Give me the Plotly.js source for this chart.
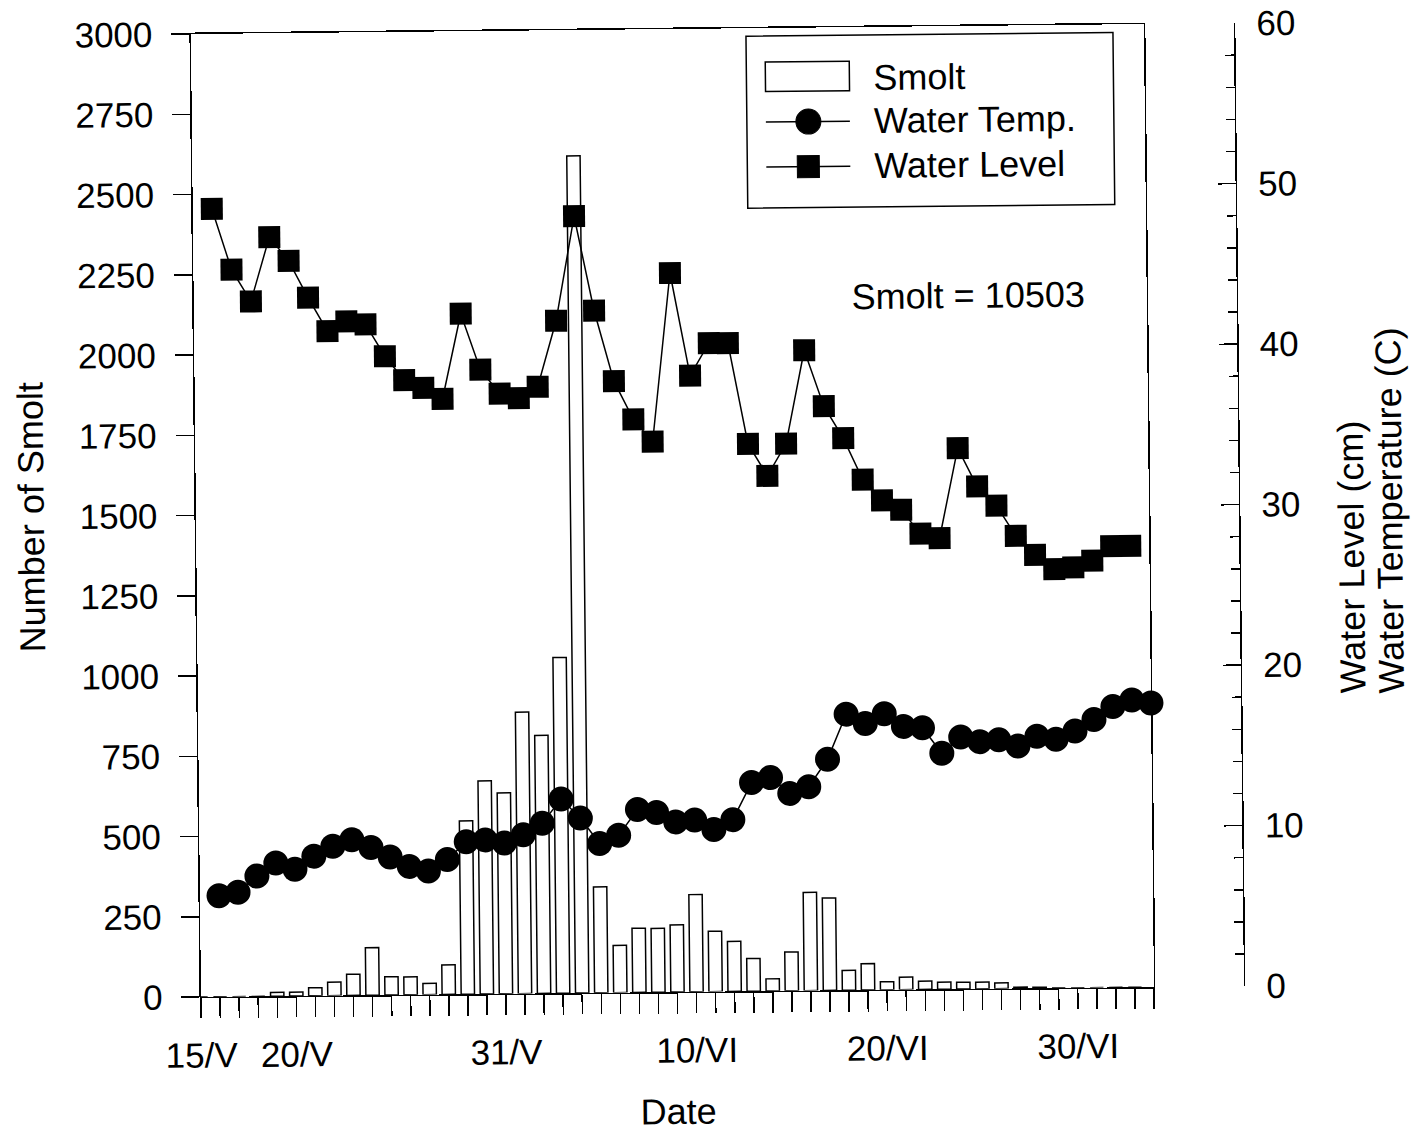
<!DOCTYPE html>
<html>
<head>
<meta charset="utf-8">
<script src="https://cdn.plot.ly/plotly-3.0.1.min.js"></script>
<style>
  html, body { margin: 0; padding: 0; background: #ffffff; overflow: hidden; }
  #chart { width: 1416px; height: 1137px; transform: rotate(-0.6deg); transform-origin: 201px 997px; }
</style>
</head>
<body>
<div id="chart"></div>
<script>
// ---- data ----
// daily smolt counts, starting 15/V
const smoltCounts = [0, 0, 0, 0, 12, 12, 25, 42, 66, 148,
                     57, 56, 35, 92, 540, 664, 626, 877, 804, 1046,
                     2608, 330, 147, 200, 199, 209, 303, 188, 156, 102,
                     38, 121, 306, 288, 62, 82, 25, 39, 26, 22,
                     21, 21, 18, 4, 3, 0, 0, 0, 0, 0];
// water temperature (C), starting 16/V
const waterTemp = [6.3, 6.5, 7.5, 8.3, 7.9, 8.7, 9.3, 9.7, 9.2, 8.6,
                   8.0, 7.7, 8.4, 9.5, 9.6, 9.4, 9.9, 10.6, 12.1, 10.9,
                   9.3, 9.8, 11.4, 11.2, 10.6, 10.7, 10.1, 10.7, 13.0, 13.3,
                   12.3, 12.7, 14.4, 17.2, 16.6, 17.2, 16.4, 16.3, 14.7, 15.7,
                   15.4, 15.5, 15.1, 15.7, 15.5, 16.0, 16.7, 17.5, 17.9, 17.7];
// water level (cm), starting 16/V
const waterLevel = [49.1, 45.3, 43.3, 47.3, 45.8, 43.5, 41.4, 42.0, 41.8, 39.8,
                    38.3, 37.8, 37.1, 42.4, 38.9, 37.4, 37.1, 37.8, 41.9, 48.4,
                    42.5, 38.1, 35.7, 34.3, 44.8, 38.4, 40.4, 40.4, 34.1, 32.1,
                    34.1, 39.9, 36.4, 34.4, 31.8, 30.5, 29.9, 28.4, 28.1, 33.7,
                    31.3, 30.1, 28.2, 27.0, 26.1, 26.2, 26.6, 27.5, 27.5];
// x axis: day offsets from 15/V and their labels
const tickDays = [0, 5, 16, 26, 36, 46];
const tickLabels = ["15/V", "20/V", "31/V", "10/VI", "20/VI", "30/VI"];
const lastDay = 50;
const legendLabels = ["Smolt", "Water Temp.", "Water Level"];
const totalLabel = "Smolt = 10503";

// ---- derived ----
const smoltDays = smoltCounts.map((_, i) => i);
const tempDays = waterTemp.map((_, i) => i + 1);
const levelDays = waterLevel.map((_, i) => i + 1);
const allDays = [];
const allText = [];
for (let d = 0; d <= lastDay; d++) {
  allDays.push(d);
  const k = tickDays.indexOf(d);
  allText.push(k >= 0 ? tickLabels[k] : "");
}

const FONT = "Liberation Sans, Arial, Helvetica, sans-serif";
const PL = 201, PR = 1244, PT = 34, PB = 997;
const fx = p => (p - PL) / (PR - PL);
const fy = p => (PB - p) / (PB - PT);
const frameRight = fx(1154);

const traces = [
  {
    type: "bar", x: smoltDays, y: smoltCounts, name: legendLabels[0],
    width: 0.7, marker: { color: "#ffffff", line: { color: "#000000", width: 1.5 } },
    xaxis: "x", yaxis: "y", showlegend: false, hoverinfo: "x+y"
  },
  {
    type: "scatter", mode: "lines+markers", x: levelDays, y: waterLevel, name: legendLabels[2],
    line: { color: "#000000", width: 1.5 },
    marker: { symbol: "square", size: 22, color: "#000000" },
    xaxis: "x", yaxis: "y2", cliponaxis: false, showlegend: false
  },
  {
    type: "scatter", mode: "lines+markers", x: tempDays, y: waterTemp, name: legendLabels[1],
    line: { color: "#000000", width: 1.5 },
    marker: { symbol: "circle", size: 25, color: "#000000" },
    xaxis: "x", yaxis: "y2", cliponaxis: false, showlegend: false
  }
];

const shapes = [
  { type: "rect", xref: "paper", yref: "paper", x0: fx(756), x1: fx(1123), y0: fy(214), y1: fy(42),
    line: { color: "#000", width: 1.5 }, fillcolor: "rgba(255,255,255,0)" },
  { type: "rect", xref: "paper", yref: "paper", x0: fx(775), x1: fx(859), y0: fy(97.5), y1: fy(68),
    line: { color: "#000", width: 1.5 }, fillcolor: "#fff" },
  { type: "line", xref: "paper", yref: "paper", x0: fx(775), x1: fx(859), y0: fy(128), y1: fy(128),
    line: { color: "#000", width: 1.5 } },
  { type: "circle", xref: "paper", yref: "paper", x0: fx(805), x1: fx(830), y0: fy(140.5), y1: fy(115.5),
    line: { color: "#000", width: 1 }, fillcolor: "#000" },
  { type: "line", xref: "paper", yref: "paper", x0: fx(775), x1: fx(859), y0: fy(173), y1: fy(173),
    line: { color: "#000", width: 1.5 } },
  { type: "rect", xref: "paper", yref: "paper", x0: fx(806), x1: fx(828), y0: fy(184), y1: fy(162),
    line: { color: "#000", width: 1 }, fillcolor: "#000" }
];

const annotations = [
  { text: legendLabels[0], x: fx(881), y: fy(84) },
  { text: legendLabels[1], x: fx(881), y: fy(128) },
  { text: legendLabels[2], x: fx(881), y: fy(173) },
  { text: totalLabel, x: fx(857), y: fy(303.5) }
].map(a => Object.assign({ xref: "paper", yref: "paper", xanchor: "left", yanchor: "middle",
  showarrow: false, font: { family: FONT, size: 36, color: "#000" } }, a));

annotations.push(
  { text: "Water Level (cm)", x: fx(1356), y: fy(708), xref: "paper", yref: "paper",
    xanchor: "center", yanchor: "bottom", textangle: -90, showarrow: false,
    font: { family: FONT, size: 36, color: "#000" } },
  { text: "Water Temperature (C)", x: fx(1394), y: fy(708), xref: "paper", yref: "paper",
    xanchor: "center", yanchor: "bottom", textangle: -90, showarrow: false,
    font: { family: FONT, size: 36, color: "#000" } }
);

const layout = {
  width: 1416, height: 1137,
  margin: { l: PL, r: 1416 - PR, t: PT, b: 1137 - PB, pad: 0 },
  paper_bgcolor: "#ffffff", plot_bgcolor: "rgba(0,0,0,0)",
  font: { family: FONT, size: 35, color: "#000" },
  showlegend: false,
  bargap: 0.3,
  xaxis: {
    domain: [0, frameRight], range: [0, lastDay],
    tickmode: "array", tickvals: allDays, ticktext: allText,
    ticks: "outside", ticklen: 20, tickwidth: 1.5, tickcolor: "#000",
    showline: true, linecolor: "#000", linewidth: 1.5, mirror: true,
    showgrid: false, zeroline: false, tickangle: 0,
    tickfont: { family: FONT, size: 35, color: "#000" },
    ticklabelstandoff: 7,
    title: { text: "Date", font: { family: FONT, size: 36, color: "#000" }, standoff: 51 }
  },
  yaxis: {
    range: [0, 3000], tickmode: "linear", tick0: 0, dtick: 250,
    ticks: "outside", ticklen: 18, tickwidth: 1.5, tickcolor: "#000",
    showline: true, linecolor: "#000", linewidth: 1.5, mirror: true,
    showgrid: false, zeroline: false,
    tickfont: { family: FONT, size: 35, color: "#000" },
    ticklabelstandoff: 12,
    title: { text: "Number of Smolt", font: { family: FONT, size: 36, color: "#000" }, standoff: 24 }
  },
  yaxis2: {
    overlaying: "y", side: "right", anchor: "free", position: 1,
    range: [0, 60], tickmode: "linear", tick0: 0, dtick: 10,
    ticks: "inside", ticklen: 18, tickwidth: 1.5, tickcolor: "#000",
    minor: { ticks: "inside", dtick: 2, ticklen: 9, tickwidth: 1.5, tickcolor: "#000", showgrid: false },
    showline: true, linecolor: "#000", linewidth: 1.5,
    showgrid: false, zeroline: false,
    tickfont: { family: FONT, size: 35, color: "#000" },
    ticklabelstandoff: 14
  },
  shapes: shapes,
  annotations: annotations
};

Plotly.newPlot("chart", traces, layout, { displayModeBar: false, staticPlot: true });
</script>
</body>
</html>
